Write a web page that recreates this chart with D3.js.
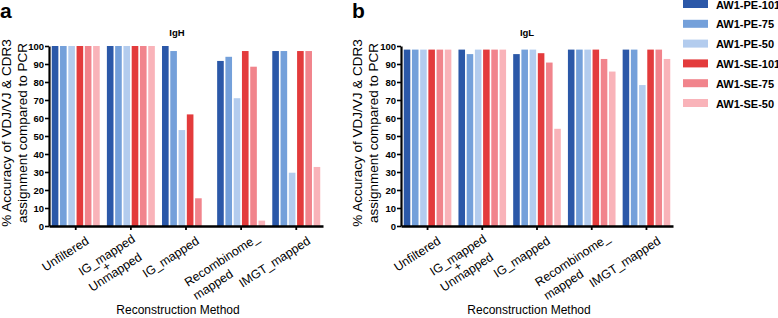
<!DOCTYPE html>
<html>
<head>
<meta charset="utf-8">
<script src="https://cdn.jsdelivr.net/npm/d3@7"></script>
<style>
  body { margin: 0; background: #fff; }
  text { font-family: Arial, "Liberation Sans", sans-serif; }
</style>
</head>
<body>
<script>
// chart values
const methods = ["Unfiltered", "IG_mapped + Unmapped", "IG_mapped", "Recombinome_ mapped", "IMGT_mapped"];
const methodLines = [["Unfiltered"], ["IG_mapped", "+", "Unmapped"], ["IG_mapped"], ["Recombinome_", "mapped"], ["IMGT_mapped"]];
const series = ["AW1-PE-101", "AW1-PE-75", "AW1-PE-50", "AW1-SE-101", "AW1-SE-75", "AW1-SE-50"];
const yTicks = [0, 10, 20, 30, 40, 50, 60, 70, 80, 90, 100];

// one row per method, one value per series
const igH = [
  [100, 100, 100, 100, 100, 100],
  [100, 100, 100, 100, 100, 100],
  [100, 97.2, 53.3, 62, 15.4, 0],
  [91.7, 94, 71, 97.2, 88.5, 3],
  [97.2, 97.2, 29.6, 97.2, 97.2, 32.8]
];
const igL = [
  [98, 98, 98, 98, 98, 98],
  [98, 95.5, 98, 98, 98, 98],
  [95.5, 98, 98, 96, 90.8, 54],
  [98, 98, 98, 98, 92.8, 85.8],
  [98, 98, 78.3, 98, 98, 92.8]
];

const WIDTH = 778, HEIGHT = 318;
const colors = ["#2b58a8", "#74a0da", "#b3ccee", "#e33b3c", "#f1848c", "#f9b3b9"];
const Y_TOP = 46, Y_BOTTOM = 226;
const ANGLE = -33;
// per-label anchor nudges for the rotated category labels
const labelDx = [14, 5, 14, 19, 15];
const labelDy = [243, 241, 243, 240, 243];

const svg = d3.select("body").append("svg")
    .attr("width", WIDTH)
    .attr("height", HEIGHT);

const yScale = d3.scaleLinear().domain([0, 100]).range([Y_BOTTOM, Y_TOP]);

function drawPanel(data, left, right, letter, letterX, title, titleX, ylabX) {
  const g = svg.append("g");

  const x0 = d3.scaleBand()
      .domain(methods)
      .range([left, right])
      .paddingInner(0.13)
      .paddingOuter(0.05);
  const x1 = d3.scaleBand()
      .domain(series)
      .range([0, x0.bandwidth()])
      .paddingInner(0.2);

  // bars
  g.selectAll(".group")
    .data(data)
    .join("g")
      .attr("class", "group")
      .attr("transform", (d, i) => `translate(${x0(methods[i])},0)`)
    .selectAll("rect")
    .data(d => d)
    .join("rect")
      .attr("x", (d, j) => x1(series[j]))
      .attr("width", x1.bandwidth())
      .attr("y", d => yScale(d))
      .attr("height", d => Y_BOTTOM - yScale(d))
      .attr("fill", (d, j) => colors[j]);

  // y axis
  const yAxis = d3.axisLeft(yScale).tickValues(yTicks).tickSize(4).tickSizeOuter(0).tickPadding(1);
  const yg = g.append("g")
      .attr("transform", `translate(${left},0)`)
      .call(yAxis);
  yg.select(".domain").attr("stroke", "#000").attr("stroke-width", 2.2);
  yg.selectAll(".tick line").attr("stroke", "#000").attr("stroke-width", 1.6);
  yg.selectAll(".tick text")
      .attr("font-size", 9.5)
      .attr("font-weight", "bold")
      .attr("font-family", "Arial, 'Liberation Sans', sans-serif")
      .attr("fill", "#000");

  // x axis
  const xAxis = d3.axisBottom(x0).tickSize(4).tickSizeOuter(0).tickFormat("");
  const xg = g.append("g")
      .attr("transform", `translate(0,${Y_BOTTOM})`)
      .call(xAxis);
  xg.select(".domain").attr("stroke", "#000").attr("stroke-width", 2.6);
  xg.selectAll(".tick line").attr("stroke", "#000").attr("stroke-width", 1.8);

  // rotated category labels
  methods.forEach((m, i) => {
    const cx = x0(m) + x0.bandwidth() / 2;
    const lg = g.append("g")
        .attr("transform", `translate(${cx + labelDx[i]},${labelDy[i]}) rotate(${ANGLE})`);
    const lines = methodLines[i];
    const first = lg.append("text")
        .attr("text-anchor", "end")
        .attr("font-size", 12.3)
        .attr("fill", "#000")
        .text(lines[0]);
    const w1 = first.node().getComputedTextLength();
    let yOff = 0;
    for (let k = 1; k < lines.length; k++) {
      const step = (lines[k] === "+" || lines[k - 1] === "+") ? 9.5 : 16;
      yOff += step;
      const t = lg.append("text")
          .attr("font-size", 12.3)
          .attr("fill", "#000")
          .attr("y", yOff)
          .text(lines[k]);
      if (lines[k] === "+") {
        t.attr("text-anchor", "middle").attr("x", -w1 * 0.6);
      } else {
        t.attr("text-anchor", "start").attr("x", -w1);
      }
    }
  });

  // axis titles
  svg.append("text")
      .attr("x", (left + right) / 2 - 8)
      .attr("y", 314)
      .attr("text-anchor", "middle")
      .attr("font-size", 12)
      .text("Reconstruction Method");

  const yl = svg.append("text")
      .attr("transform", `translate(${ylabX},${(Y_TOP + Y_BOTTOM) / 2 - 3}) rotate(-90)`)
      .attr("text-anchor", "middle")
      .attr("font-size", 13.5);
  yl.append("tspan").attr("x", 0).attr("dy", 0).text("% Accuracy of VDJ/VJ & CDR3");
  yl.append("tspan").attr("x", 0).attr("dy", 16).text("assignment compared to PCR");

  svg.append("text")
      .attr("x", titleX)
      .attr("y", 36)
      .attr("text-anchor", "middle")
      .attr("font-size", 9.5)
      .attr("font-weight", "bold")
      .text(title);

  svg.append("text")
      .attr("x", letterX)
      .attr("y", 18)
      .attr("font-size", 21)
      .attr("font-weight", "bold")
      .text(letter);
}

drawPanel(igH, 49, 323, "a", 0, "IgH", 177, 11);
drawPanel(igL, 401, 673, "b", 352, "IgL", 527, 362);

// legend
const legend = svg.append("g");
const rowY = d3.scalePoint().domain(series).range([4, 103]);
legend.selectAll("rect")
  .data(series)
  .join("rect")
    .attr("x", 683)
    .attr("y", d => rowY(d) - 4)
    .attr("width", 25)
    .attr("height", 8)
    .attr("fill", (d, i) => colors[i]);
legend.selectAll("text")
  .data(series)
  .join("text")
    .attr("x", 716)
    .attr("y", d => rowY(d) + 4.5)
    .attr("font-size", 11)
    .attr("font-weight", "bold")
    .text(d => d);
</script>
</body>
</html>
